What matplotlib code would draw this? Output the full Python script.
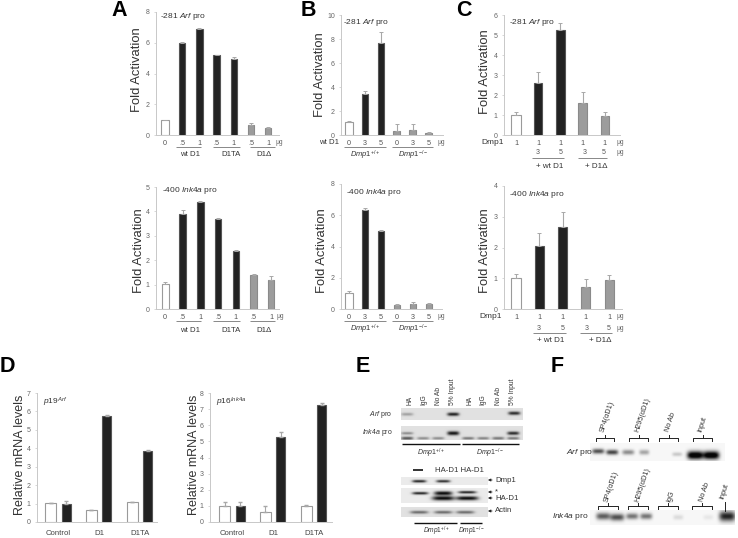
import numpy as np
from matplotlib import pyplot as plt

plt.rcParams['font.family'] = ['Liberation Sans', 'DejaVu Sans']
plt.rcParams['mathtext.fontset'] = 'custom'
plt.rcParams['mathtext.it'] = 'Liberation Sans:italic'
plt.rcParams['mathtext.rm'] = 'Liberation Sans'

W, H = 738, 538
WHITE, DARK, MID = '#ffffff', '#222222', '#9c9c9c'

#bar heights and errors
a_top = [1, 6, 6.9, 5.2, 4.95, 0.65, 0.45]
a_top_err = [0, 0.06, 0.05, 0.03, 0.15, 0.15, 0.08]
a_bot = [1.02, 3.88, 4.38, 3.67, 2.38, 1.4, 1.2]
a_bot_err = [0.07, 0.17, 0.03, 0.04, 0.03, 0.03, 0.15]
a_cols = [WHITE, DARK, DARK, DARK, DARK, MID, MID]
a_labels = ['0', '.5', '1', '.5', '1', '.5', '1']

b_top = [1.05, 3.4, 7.7, 0.35, 0.4, 0.2]
b_top_err = [0.1, 0.3, 0.85, 0.55, 0.5, 0.03]
b_bot = [1.05, 6.35, 5.0, 0.27, 0.35, 0.32]
b_bot_err = [0.1, 0.1, 0.03, 0.03, 0.07, 0.04]
b_cols = [WHITE, DARK, DARK, MID, MID, MID]
b_labels = ['0', '3', '5', '0', '3', '5']

c_top = [1, 2.6, 5.25, 1.6, 0.95]
c_top_err = [0.17, 0.57, 0.35, 0.55, 0.2]
c_bot = [1, 2.05, 2.68, 0.7, 0.93]
c_bot_err = [0.13, 0.42, 0.47, 0.28, 0.18]
c_cols = [WHITE, DARK, DARK, MID, MID]
c_labels = ['1', '1', '1', '1', '1']

d_groups = ['Control', 'D1', 'D1TA']
d1_white = [1.02, 0.65, 1.07]
d1_white_err = [0.03, 0.02, 0]
d1_dark = [1, 5.77, 3.85]
d1_dark_err = [0.13, 0.03, 0.04]
d2_white = [1, 0.6, 1.02]
d2_white_err = [0.22, 0.4, 0.03]
d2_dark = [1, 5.27, 7.25]
d2_dark_err = [0.25, 0.33, 0.1]

#blot bands: x, y, half width, half height, strength (picture pixels)
e_arf = [(407, 414, 6, 1.5, 0.3), (453, 414, 6, 1.7, 0.9), (514, 413, 6, 1.7, 0.85)]
e_ink = [(407, 433, 6, 1.3, 0.4), (407, 438, 6, 1.5, 0.65), (423, 438, 6, 1.3, 0.4),
         (438, 438, 6, 1.3, 0.4), (453, 433, 6, 2, 0.95), (468, 438, 6, 1.3, 0.5),
         (483, 438, 6, 1.3, 0.45), (498, 438, 6, 1.4, 0.5), (513, 433, 6, 1.7, 0.85),
         (513, 438, 6, 1.3, 0.5)]
e_w1 = [(419, 481, 7, 1.3, 0.9), (443, 481, 7, 1.3, 0.85)]
e_w2 = [(420, 493, 8, 1.3, 0.9), (443, 493, 9, 2, 1), (443, 498, 11, 2.2, 1),
        (467, 492, 9, 1.3, 0.9), (467, 498, 11, 2, 1)]
e_w3 = [(419, 512, 9, 1.5, 0.55), (443, 512, 9, 1.5, 0.55), (465, 512, 9, 1.5, 0.55)]
f_arf = [(598, 451, 6, 2.5, 0.7), (612, 452, 6, 2.5, 0.75), (628, 452, 6, 2.5, 0.45),
         (644, 452, 5, 2.5, 0.35), (677, 454, 5, 2, 0.2), (695, 455, 8, 4, 1.2),
         (711, 455, 8, 4, 1.2)]
f_ink = [(603, 516, 7, 3.5, 0.65), (617, 517, 7, 3.5, 0.7), (632, 516, 6, 3, 0.55),
         (646, 516, 6, 3, 0.55), (678, 517, 5, 2.5, 0.12), (708, 517, 5, 2.5, 0.07),
         (727, 516, 8, 5, 0.9)]


def box(l, t, r, b):
    return [l / W, 1 - b / H, (r - l) / W, (b - t) / H]


def style_ax(a, ymax, ytop):
    a.set_ylim(0, ymax)
    a.set_yticks(np.arange(0, ymax + 1, ytop))
    a.spines[['top', 'right']].set_visible(False)
    a.spines[['left', 'bottom']].set_color('#c8c8c8')
    a.spines[['left', 'bottom']].set_linewidth(0.7)
    a.tick_params(axis='y', length=1.5, width=0.5, color='#c8c8c8', labelsize=5, labelcolor='#666666', pad=3)
    a.patch.set_alpha(0)


def put_ylabel(a, rect, s, lx, ly, size=9.4):
    #label centre given in picture pixels
    a.set_ylabel(s, fontsize=size, color='#333333', va='center')
    a.yaxis.set_label_coords((lx - rect[0]) / (rect[2] - rect[0]), (rect[3] - ly) / (rect[3] - rect[1]))


def bar_panel(rect, x0, step, vals, errs, cols, labels, ymax, ytop, px_white, px_dark, lab_xy):
    a = fig.add_axes(box(*rect))
    x = np.arange(len(vals))
    for i in x:
        wide = px_white if cols[i] == WHITE else px_dark
        edge = '#9a9a9a' if cols[i] == WHITE else ('#555555' if cols[i] == DARK else '#8a8a8a')
        a.bar(i, vals[i], width=wide / step, color=cols[i], edgecolor=edge, linewidth=0.8)
        a.errorbar(i, vals[i], yerr=[[0], [errs[i]]], color='#a8a8a8', capsize=1.2, elinewidth=0.8, capthick=0.7)
    a.set_xlim((rect[0] - x0) / step, (rect[2] - x0) / step)
    style_ax(a, ymax, ytop)
    a.set_xticks(x)
    a.set_xticklabels(labels, fontsize=5.2, color='#555555')
    a.tick_params(axis='x', length=0, pad=3.5)
    put_ylabel(a, rect, 'Fold Activation', *lab_xy)
    return a


def group_panel(rect, x0, step, white, white_err, dark, dark_err, groups, ymax, ytop, lab_xy):
    a = fig.add_axes(box(*rect))
    x = np.arange(len(groups))
    a.bar(x - 0.19, white, width=11 / step, color=WHITE, edgecolor='#9a9a9a', linewidth=0.8,
          yerr=[np.zeros(3), white_err], ecolor='#a8a8a8', error_kw=dict(capsize=1.2, elinewidth=0.8))
    a.bar(x + 0.19, dark, width=9 / step, color=DARK, edgecolor='#555555', linewidth=0.8,
          yerr=[np.zeros(3), dark_err], ecolor='#a8a8a8', error_kw=dict(capsize=1.2, elinewidth=0.8))
    a.set_xlim((rect[0] - x0) / step, (rect[2] - x0) / step)
    style_ax(a, ymax, ytop)
    a.set_xticks(x)
    a.set_xticklabels(groups, fontsize=5.6, color='#444444')
    a.tick_params(axis='x', length=0, pad=6)
    put_ylabel(a, rect, 'Relative mRNA levels', *lab_xy, size=9)
    return a


def gel(l, t, r, b, bg, bands):
    #grey blot picture built from the band list, one cell per picture pixel
    xx, yy = np.meshgrid(np.arange(l, r, 0.5), np.arange(t, b, 0.5))
    dens = np.zeros_like(xx, dtype=float)
    for bx, by, hw, hh, s in bands:
        dens += s * np.exp(-((xx - bx) / hw) ** 4 - ((yy - by) / hh) ** 2)
    img = bg * (1 - np.clip(dens, 0, 1) * 0.97)
    ov.imshow(img, extent=(l, r, b, t), cmap='gray', vmin=0, vmax=1, aspect='auto',
              interpolation='bilinear', zorder=1)


def txt(x, y, s, size=5.6, color='#333333', ha='center', **kw):
    ov.text(x, y, s, fontsize=size, color=color, ha=ha, va='center', **kw)


def rule(x1, x2, y, color='#888888', lw=0.7):
    ov.plot([x1, x2], [y, y], color=color, lw=lw, solid_capstyle='butt')


def bracket(x1, x2, y, h=3, stem=3):
    ov.plot([x1, x1, x2, x2], [y + h, y, y, y + h], color='#222222', lw=0.7)
    ov.plot([(x1 + x2) / 2] * 2, [y, y - stem], color='#222222', lw=0.7)


fig = plt.figure(figsize=(W / 100, H / 100), dpi=100)

bar_panel((156, 12, 279, 135), 165, 17.2, a_top, a_top_err, a_cols, a_labels, 8, 2, 8, 6.5, (137, 70))
bar_panel((156, 187, 279, 309), 165, 17.7, a_bot, a_bot_err, a_cols, a_labels, 5, 1, 7, 6.5, (139, 251))
bar_panel((341, 15, 443, 135), 349, 15.9, b_top, b_top_err, b_cols, b_labels, 10, 2, 7.5, 6.5, (320, 75))
bar_panel((341, 184, 442, 309), 349, 16, b_bot, b_bot_err, b_cols, b_labels, 8, 2, 7.5, 6.5, (322, 251))
bar_panel((504, 15, 620, 135), 516, 22.2, c_top, c_top_err, c_cols, c_labels, 6, 1, 10, 8.5, (485, 72))
bar_panel((504, 186, 622, 309), 516, 23.3, c_bot, c_bot_err, c_cols, c_labels, 4, 1, 10, 9, (485, 251))
group_panel((37, 393, 157, 522), 58.5, 40.7, d1_white, d1_white_err, d1_dark, d1_dark_err, d_groups, 7, 1, (20, 455))
group_panel((210, 393, 332, 522), 232.5, 40.7, d2_white, d2_white_err, d2_dark, d2_dark_err, d_groups, 8, 1, (194, 455))

#everything that is not a bar goes on an overlay in picture pixels
ov = fig.add_axes([0, 0, 1, 1], zorder=5)
ov.patch.set_alpha(0)
ov.axis('off')

for s, x, y in [('A', 119, 10), ('B', 308, 10), ('C', 464, 10), ('D', 7, 367), ('E', 363, 367), ('F', 557, 367)]:
    txt(x, y, s, size=15.5, color='black', weight='bold')

#panel A
txt(160, 16, r'-281 $\mathit{Arf}$ pro', ha='left', size=6)
txt(162, 191, r'-400 $\mathit{Ink4a}$ pro', ha='left', size=6)
for y, yt in [(147, 155), (321, 330)]:
    rule(176, 201, y)
    rule(213, 240, y)
    rule(250, 275, y)
    txt(190, yt, 'wt D1')
    txt(231, yt, 'D1TA')
    txt(264, yt, 'D1Δ')
txt(279, 143, 'μg', size=4.8, color='#666666')
txt(280, 317, 'μg', size=4.8, color='#666666')

#panel B
txt(343, 22, r'-281 $\mathit{Arf}$ pro', ha='left', size=6)
txt(346, 192, r'-400 $\mathit{Ink4a}$ pro', ha='left', size=6)
txt(329, 143, 'wt D1', size=5.6)
for y, yt in [(147, 155), (321, 329)]:
    rule(344, 386, y)
    rule(392, 433, y)
    txt(365, yt, r'$\mathit{Dmp1}^{+/+}$', size=5.4)
    txt(413, yt, r'$\mathit{Dmp1}^{-/-}$', size=5.4)
txt(441, 143, 'μg', size=4.8, color='#666666')
txt(441, 317, 'μg', size=4.8, color='#666666')

#panel C
txt(509, 23, r'-281 $\mathit{Arf}$ pro', ha='left', size=6)
txt(509, 194, r'-400 $\mathit{Ink4a}$ pro', ha='left', size=6)
txt(493, 142, 'Dmp1', size=6)
txt(491, 317, 'Dmp1', size=6)
for y0, xs in [(153, (538, 561, 585, 604)), (328, (539, 563, 587, 609))]:
    for x, s in zip(xs, ['3', '5', '3', '5']):
        txt(x, y0, s, size=5, color='#555555')
    rule(xs[0] - 6, xs[1] + 3, y0 + 5)
    rule(xs[2] - 7, xs[3] + 3, y0 + 5)
    txt((xs[0] + xs[1]) / 2, y0 + 13, '+ wt D1', size=5.8)
    txt((xs[2] + xs[3]) / 2 + 2, y0 + 13, '+ D1Δ', size=5.8)
    txt(620, y0 - 11, 'μg', size=4.8, color='#666666')
    txt(620, y0, 'μg', size=4.8, color='#666666')

#panel D
txt(43, 402, r'$\mathit{p19}^{\mathit{Arf}}$', ha='left', size=6)
txt(216, 402, r'$\mathit{p16}^{\mathit{Ink4a}}$', ha='left', size=6)

#panel E, ChIP gels
gel(401, 408, 523, 420, 0.88, e_arf)
gel(401, 426, 523, 440, 0.88, e_ink)
for x, s in zip([410, 424, 438, 453, 470, 483, 498, 513],
                ['HA', 'IgG', 'No Ab', '5% Input', 'HA', 'IgG', 'No Ab', '5% Input']):
    ov.text(x, 405, s, fontsize=4.8, color='#333333', rotation=90, ha='center', va='bottom')
txt(392, 414, r'$\mathit{Arf}$ pro', size=5, ha='right')
txt(393, 432.5, r'$\mathit{Ink4a}$ pro', size=5, ha='right')
rule(402, 460, 444, color='#111111', lw=1)
rule(462, 519, 444, color='#111111', lw=1)
txt(431, 453, r'$\mathit{Dmp1}^{+/+}$', size=5)
txt(490, 453, r'$\mathit{Dmp1}^{-/-}$', size=5)

#panel E, western
rule(413, 423, 470, color='#111111', lw=1.2)
txt(459, 471, 'HA-D1 HA-D1', size=5.6)
gel(401, 477, 488, 485, 0.92, e_w1)
gel(401, 488, 488, 503, 0.92, e_w2)
gel(401, 507, 488, 517, 0.88, e_w3)
for y, s in [(480, 'Dmp1'), (492, '*'), (498, 'HA-D1'), (511, 'Actin')]:
    ov.annotate(s, xy=(488, y), xytext=(495, y), fontsize=5.6, color='#333333', va='center',
                arrowprops=dict(arrowstyle='-|>', color='#222222', lw=0.5, mutation_scale=4, shrinkA=0, shrinkB=0))
rule(414, 457, 523, color='#111111', lw=1)
rule(460, 482, 523, color='#111111', lw=1)
txt(436, 531, r'$\mathit{Dmp1}^{+/+}$', size=4.8)
txt(472, 531, r'$\mathit{Dmp1}^{-/-}$', size=4.8)

#panel F
gel(590, 443, 725, 461, 0.97, f_arf)
gel(590, 510, 735, 525, 0.97, f_ink)
txt(580, 452, r'$\mathit{Arf}$ pro', size=6)
txt(589, 517, r'$\mathit{Ink4a}$ pro', size=6, ha='right')
for x1, x2 in [(596, 614), (629, 648), (659, 678), (693, 712)]:
    bracket(x1, x2, 438)
for x1, x2 in [(598, 618), (628, 648), (658, 678), (692, 712)]:
    bracket(x1, x2, 506)
ov.plot([725, 725], [502, 511], color='#222222', lw=0.7)
for x, y, s in [(606, 433, 'SP4(αD1)'), (640, 433, 'H295(αD1)'), (671, 433, 'No Ab'), (703, 433, 'Input')]:
    ov.text(x, y, s, fontsize=5.2, color='#333333', rotation=72, ha='left', va='bottom', rotation_mode='anchor')
for x, y, s in [(610, 503, 'SP4(αD1)'), (640, 503, 'H295(αD1)'), (672, 503, 'IgG'), (705, 503, 'No Ab'), (725, 500, 'Input')]:
    ov.text(x, y, s, fontsize=5.2, color='#333333', rotation=72, ha='left', va='bottom', rotation_mode='anchor')

ov.set_xlim(0, W)
ov.set_ylim(H, 0)

fig.savefig('out.png', dpi=100)
